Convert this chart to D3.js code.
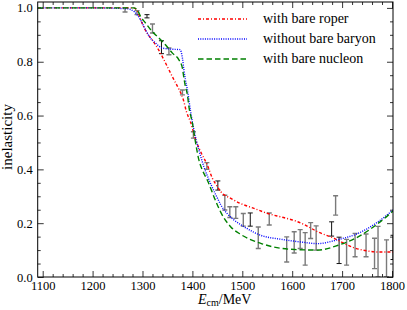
<!DOCTYPE html>
<html>
<head>
<meta charset="utf-8">
<script src="https://cdn.jsdelivr.net/npm/d3@7"></script>
<style>
  body { margin: 0; background: #fff; }
</style>
</head>
<body>
<svg id="chart" width="407" height="310"></svg>
<script>
// curves: [E_cm in MeV, inelasticity]
const roper = [
  [1090, 1.0], [1200, 1.0], [1282, 1.0], [1289, 0.99], [1299, 0.944], [1309, 0.907],
  [1319, 0.882], [1326, 0.863], [1336, 0.832], [1343, 0.807], [1353, 0.77],
  [1363, 0.733], [1373, 0.698], [1382, 0.658], [1388, 0.615], [1396, 0.577],
  [1408, 0.503], [1418, 0.46], [1430, 0.416], [1440, 0.367], [1447, 0.345],
  [1457, 0.317], [1477, 0.292], [1497, 0.273], [1525, 0.254], [1551, 0.236],
  [1580, 0.222], [1604, 0.21], [1624, 0.195], [1651, 0.168], [1685, 0.143],
  [1705, 0.124], [1725, 0.108], [1750, 0.097], [1772, 0.093], [1802, 0.093]
];
const noBare = [
  [1090, 1.0], [1200, 1.0], [1269, 0.997], [1284, 0.985], [1296, 0.956], [1306, 0.919],
  [1316, 0.888], [1326, 0.87], [1339, 0.851], [1356, 0.847], [1375, 0.845],
  [1380, 0.814], [1383, 0.77], [1386, 0.733], [1390, 0.696], [1396, 0.62],
  [1403, 0.547], [1413, 0.472], [1423, 0.41], [1437, 0.345], [1447, 0.305],
  [1457, 0.268], [1470, 0.235], [1484, 0.211], [1504, 0.186], [1537, 0.155],
  [1578, 0.14], [1618, 0.13], [1651, 0.124], [1692, 0.139], [1732, 0.162],
  [1772, 0.205], [1802, 0.249]
];
const nucleon = [
  [1090, 1.0], [1200, 1.0], [1282, 1.0], [1289, 0.994], [1296, 0.969], [1306, 0.944],
  [1319, 0.913], [1333, 0.888], [1346, 0.863], [1360, 0.832], [1373, 0.807],
  [1380, 0.776], [1383, 0.739], [1386, 0.708], [1390, 0.677], [1393, 0.633],
  [1400, 0.572], [1406, 0.503], [1413, 0.435], [1420, 0.397], [1430, 0.36],
  [1445, 0.29], [1457, 0.24], [1477, 0.186], [1497, 0.158], [1537, 0.125],
  [1597, 0.103], [1651, 0.1], [1692, 0.118], [1732, 0.149], [1772, 0.199],
  [1802, 0.245]
];

// data points with error bars: [E_cm, low, high]
const dataGray = [
  [1265, 0.985, 1.0], [1289, 0.975, 0.99], [1320, 0.907, 0.94], [1353, 0.826, 0.851],
  [1380, 0.677, 0.695], [1402, 0.516, 0.54], [1429, 0.40, 0.425], [1465, 0.249, 0.304],
  [1475, 0.221, 0.261], [1487, 0.218, 0.261], [1502, 0.189, 0.236], [1532, 0.106, 0.186],
  [1554, 0.193, 0.238], [1589, 0.056, 0.149], [1604, 0.089, 0.168], [1616, 0.106, 0.176],
  [1626, 0.044, 0.165], [1637, 0.143, 0.202], [1648, 0.1, 0.19], [1687, 0.23, 0.302],
  [1709, 0.044, 0.14], [1726, 0.075, 0.162], [1748, 0.075, 0.16], [1765, 0.031, 0.144],
  [1772, 0.0, 0.188], [1789, 0.0, 0.138]
];
const dataBlack = [
  [1309, 0.963, 0.975], [1338, 0.83, 0.878], [1451, 0.323, 0.357], [1516, 0.189, 0.238],
  [1679, 0.152, 0.205], [1694, 0.05, 0.148], [1802, 0.065, 0.155]
];

const xTicks = [1100, 1200, 1300, 1400, 1500, 1600, 1700, 1800];
const yTicks = [0.0, 0.2, 0.4, 0.6, 0.8, 1.0];
const legendNames = ["with bare roper", "without bare baryon", "with bare nucleon"];

const svg = d3.select("#chart");
const serif = "'Liberation Serif'";
const mLeft = 37.7, mRight = 393, mTop = 2, mBottom = 277;

const x = d3.scaleLinear().domain([1090, 1802]).range([mLeft, mRight]);
const y = d3.scaleLinear().domain([0, 1.022]).range([mBottom, mTop]);

const xMinor = d3.range(1100, 1801, 20).filter(v => v % 100 !== 0);
const yMinor = d3.range(0, 1.01, 0.05).filter(v => Math.round(v * 100) % 20 !== 0);

function drawAxis(axis, tr) {
  const g = svg.append("g").attr("transform", tr).call(axis);
  g.select(".domain").remove();
  g.selectAll("line").attr("stroke", "#000").attr("stroke-width", 0.8);
  g.selectAll("text").style("font-family", serif).style("font-size", "12.5px").attr("fill", "#000");
  return g;
}

// bottom
const gx = drawAxis(d3.axisBottom(x).tickValues(xTicks).tickSize(-6).tickPadding(13).tickFormat(d3.format("d")), `translate(0,${mBottom})`);
gx.selectAll("text").attr("dy", "0");
drawAxis(d3.axisBottom(x).tickValues(xMinor).tickSize(-3).tickFormat(""), `translate(0,${mBottom})`);
// top
drawAxis(d3.axisTop(x).tickValues(xTicks).tickSize(-6).tickFormat(""), `translate(0,${mTop})`);
drawAxis(d3.axisTop(x).tickValues(xMinor).tickSize(-3).tickFormat(""), `translate(0,${mTop})`);
// left
drawAxis(d3.axisLeft(y).tickValues(yTicks).tickSize(-6).tickPadding(5).tickFormat(d3.format(".1f")), `translate(${mLeft},0)`);
drawAxis(d3.axisLeft(y).tickValues(yMinor).tickSize(-3).tickFormat(""), `translate(${mLeft},0)`);
// right
drawAxis(d3.axisRight(y).tickValues(yTicks).tickSize(-6).tickFormat(""), `translate(${mRight},0)`);
drawAxis(d3.axisRight(y).tickValues(yMinor).tickSize(-3).tickFormat(""), `translate(${mRight},0)`);

svg.append("defs").append("clipPath").attr("id", "plot")
  .append("rect").attr("x", mLeft).attr("y", mTop).attr("width", mRight - mLeft).attr("height", mBottom - mTop);

const plot = svg.append("g").attr("clip-path", "url(#plot)");

function errorBars(data, color, w) {
  const g = plot.append("g").attr("stroke", color).attr("stroke-width", w);
  data.forEach(d => {
    const cx = x(d[0]);
    g.append("line").attr("x1", cx).attr("x2", cx).attr("y1", y(d[1])).attr("y2", y(d[2]));
    g.append("line").attr("x1", cx - 2.5).attr("x2", cx + 2.5).attr("y1", y(d[1])).attr("y2", y(d[1]));
    g.append("line").attr("x1", cx - 2.5).attr("x2", cx + 2.5).attr("y1", y(d[2])).attr("y2", y(d[2]));
  });
}
errorBars(dataGray, "#7a7a7a", 1.4);
errorBars(dataBlack, "#111", 1);

const line = d3.line().x(d => x(d[0])).y(d => y(d[1])).curve(d3.curveMonotoneX);
const styles = [
  { data: roper, color: "#ff0000", dash: "3,2,1,2" },
  { data: noBare, color: "#0000ff", dash: "1,1.3" },
  { data: nucleon, color: "#008000", dash: "5.5,3" }
];
styles.forEach(s => {
  plot.append("path").datum(s.data).attr("d", line)
    .attr("fill", "none").attr("stroke", s.color).attr("stroke-width", 1.4)
    .attr("stroke-dasharray", s.dash);
});

// frame
svg.append("rect").attr("x", mLeft).attr("y", mTop).attr("width", mRight - mLeft).attr("height", mBottom - mTop)
  .attr("fill", "none").attr("stroke", "#000").attr("stroke-width", 1);

// legend
styles.forEach((s, i) => {
  const ly = 19 + 20 * i;
  svg.append("line").attr("x1", 198).attr("x2", 247).attr("y1", ly).attr("y2", ly)
    .attr("stroke", s.color).attr("stroke-width", 1.4).attr("stroke-dasharray", s.dash);
  svg.append("text").attr("x", 263).attr("y", ly + 4)
    .style("font-family", serif).style("font-size", "14px").text(legendNames[i]);
});

// axis titles
svg.append("text").attr("transform", "translate(12,137) rotate(-90)").attr("text-anchor", "middle")
  .style("font-family", serif).style("font-size", "15px").text("inelasticity");

const xt = svg.append("text").attr("x", 198).attr("y", 304)
  .style("font-family", serif).style("font-size", "14px");
xt.append("tspan").style("font-style", "italic").text("E");
xt.append("tspan").style("font-size", "10px").attr("dy", 2).text("cm");
xt.append("tspan").attr("dy", -2).text("/MeV");
</script>
</body>
</html>
